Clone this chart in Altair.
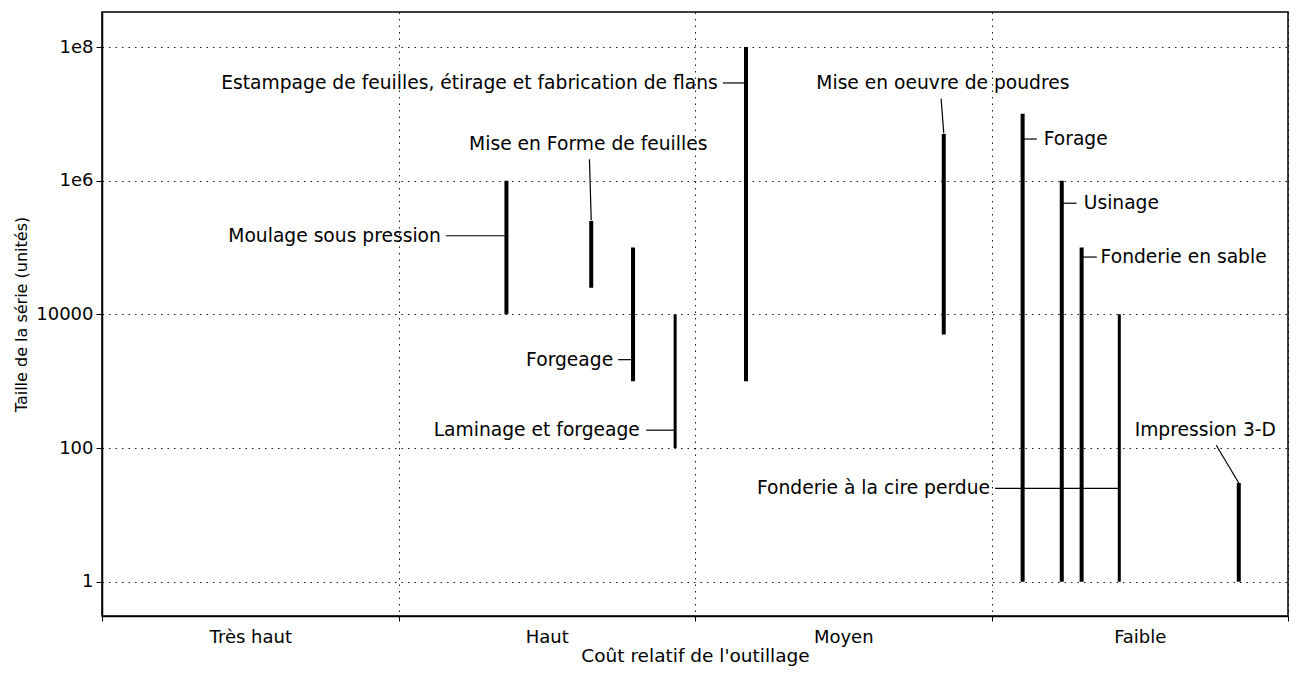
import altair as alt
import pandas as pd

# ---- data -----------------------------------------------------------------
procedes = ["Moulage sous pression", "Mise en Forme de feuilles", "Forgeage",
            "Laminage et forgeage",
            "Estampage de feuilles, étirage et fabrication de flans",
            "Mise en oeuvre de poudres", "Forage", "Usinage",
            "Fonderie en sable", "Fonderie à la cire perdue", "Impression 3-D"]
x_pos = [1.364, 1.650, 1.791, 1.933, 2.172, 2.839, 3.105, 3.237, 3.304, 3.431, 3.834]
y_min = [1e4, 2.5e4, 1e3, 1e2, 1e3, 5e3, 1, 1, 1, 1, 1]
y_max = [1e6, 2.5e5, 1e5, 1e4, 1e8, 5e6, 1e7, 1e6, 1e5, 1e4, 30]

# leader lines (start -> end, in data units)
lead_x1 = [1.160, 1.644, 1.741, 1.835, 2.094, 2.830, 3.105, 3.237, 3.304, 3.012, 3.758]
lead_y1 = [1.5e5, 2.1e6, 2.1e3, 185, 2.9e7, 1.7e7, 4.2e6, 4.6e5, 7.2e4, 25, 110]
lead_x2 = [1.364, 1.650, 1.791, 1.933, 2.172, 2.839, 3.153, 3.287, 3.355, 3.431, 3.834]
lead_y2 = [1.5e5, 2.55e5, 2.1e3, 185, 2.9e7, 5.1e6, 4.2e6, 4.6e5, 7.2e4, 25, 30]

# label anchors
lab_x = [1.143, 1.640, 1.724, 1.814, 2.077, 2.836, 3.176, 3.311, 3.368, 2.995, 3.721]
lab_y = [1.5e5, 3.5e6, 2.1e3, 185, 2.9e7, 2.9e7, 4.2e6, 4.6e5, 7.2e4, 25, 186]
lab_align = ["right", "center", "right", "right", "right", "center",
             "left", "left", "left", "right", "center"]

categories = ["Très haut", "Haut", "Moyen", "Faible"]
y_ticks = [1, 100, 10000, 1e6, 1e8]
x_ticks = [0, 0.5, 1, 1.5, 2, 2.5, 3, 3.5, 4]

thin = ["Laminage et forgeage", "Fonderie à la cire perdue"]

df = pd.DataFrame({"nom": procedes, "x": x_pos, "ymin": y_min, "ymax": y_max,
                   "lx1": lead_x1, "ly1": lead_y1, "lx2": lead_x2, "ly2": lead_y2,
                   "tx": lab_x, "ty": lab_y, "align": lab_align})

FONT = "DejaVu Sans"

cat_expr = ("datum.value == 0.5 ? '%s' : datum.value == 1.5 ? '%s' : "
            "datum.value == 2.5 ? '%s' : datum.value == 3.5 ? '%s' : ''") % tuple(categories)

x_scale = alt.Scale(domain=[0, 4], nice=False, zero=False)
y_scale = alt.Scale(type="log", domain=[0.307, 3.34e8], nice=False)

x_axis = alt.Axis(
    values=x_ticks, labelExpr=cat_expr, title="Coût relatif de l'outillage",
    grid=True, gridColor="black", gridDash=[1.5, 5], gridWidth=1,
    gridOpacity={"condition": {"test": "datum.value % 1 != 0", "value": 0}, "value": 0.9},
    tickOpacity={"condition": {"test": "datum.value % 1 != 0", "value": 0}, "value": 1},
    tickSize=5, tickColor="black", domainColor="black", domainWidth=1.5,
    labelPadding=7, labelFont=FONT, labelFontSize=18, labelColor="black",
    titleFont=FONT, titleFontSize=18.5, titleFontWeight="normal", titleColor="black",
    titlePadding=0, labelFlush=False,
)
y_axis = alt.Axis(
    values=y_ticks,
    labelExpr="datum.value >= 1e6 ? '1e' + round(log(datum.value)/LN10) : format(datum.value, 'd')",
    title="Taille de la série (unités)",
    grid=True, gridColor="black", gridDash=[1.5, 5], gridWidth=1, gridOpacity=0.9,
    tickSize=6, tickColor="black", domainColor="black", domainWidth=1.5,
    labelPadding=3, labelFont=FONT, labelFontSize=18, labelColor="black",
    titleFont=FONT, titleFontSize=16, titleFontWeight="normal", titleColor="black",
    titlePadding=6,
)

base = alt.Chart(df)

bars = base.mark_rule(color="black").encode(
    x=alt.X("x:Q", scale=x_scale, axis=x_axis),
    y=alt.Y("ymin:Q", scale=y_scale, axis=y_axis),
    y2="ymax:Q",
    strokeWidth=alt.condition(alt.FieldOneOfPredicate(field="nom", oneOf=thin),
                              alt.value(3), alt.value(4)),
)

leaders = base.mark_rule(color="black", strokeWidth=1.2).encode(
    x=alt.X("lx1:Q", scale=x_scale),
    y=alt.Y("ly1:Q", scale=y_scale),
    x2="lx2:Q",
    y2="ly2:Q",
)

def labels(al):
    return base.transform_filter(alt.datum.align == al).mark_text(
        align=al, baseline="middle", font=FONT, fontSize=18.7, color="black"
    ).encode(
        x=alt.X("tx:Q", scale=x_scale),
        y=alt.Y("ty:Q", scale=y_scale),
        text="nom:N",
    )

chart = alt.layer(bars, leaders, labels("right"), labels("left"), labels("center")).properties(
    width=1186, height=604,
    autosize=alt.AutoSizeParams(type="none"),
    padding={"left": 94, "top": 4, "right": 1, "bottom": 50},
).configure_view(stroke="black", strokeWidth=1.5)

chart.save("out.html", embed_options={"renderer": "svg", "actions": False})
